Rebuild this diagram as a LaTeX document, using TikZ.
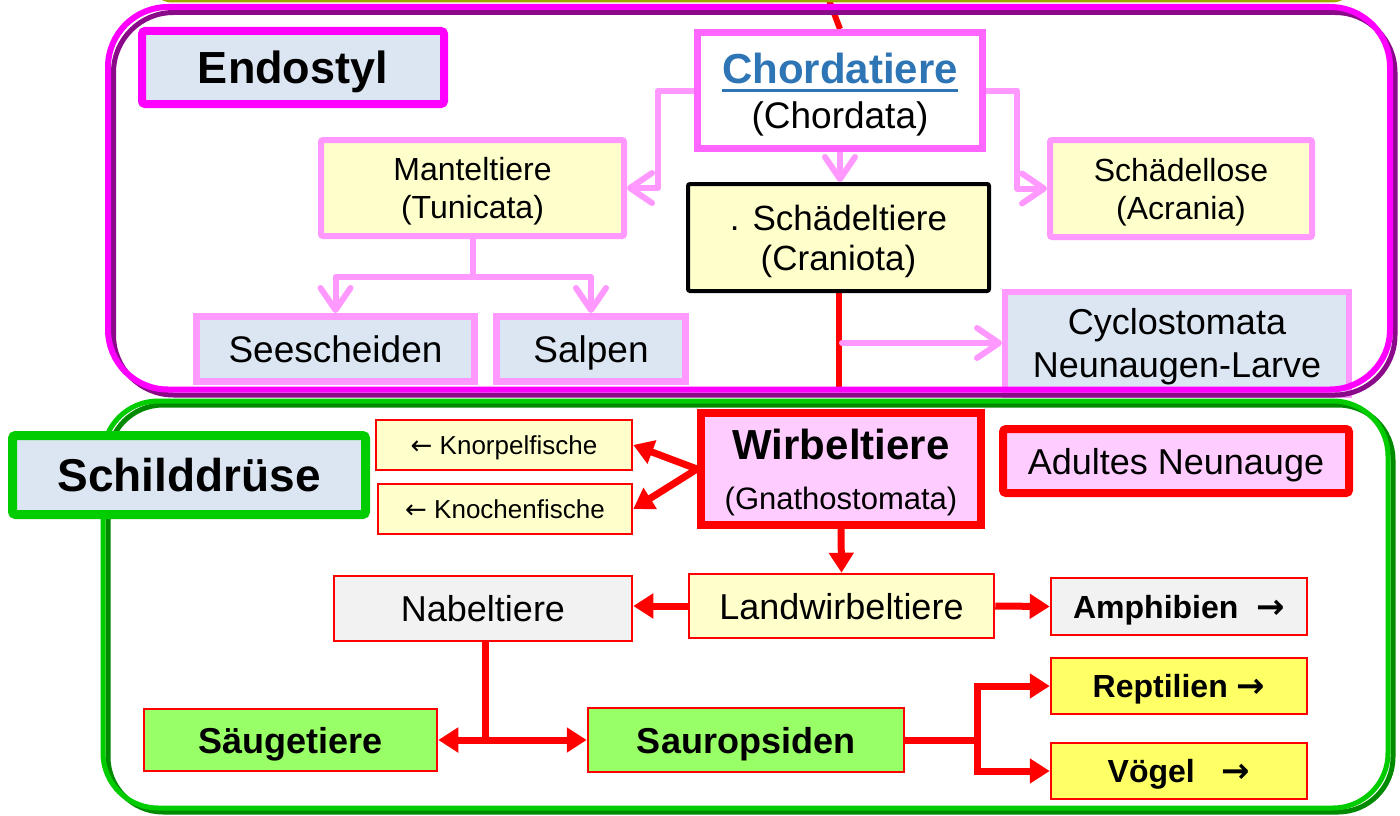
\documentclass[tikz,border=0pt]{standalone}
\usepackage{fontspec}
\setmainfont{Liberation Sans}
\newfontfamily\arrfont{DejaVu Sans}
\usetikzlibrary{arrows.meta}
\definecolor{mag}{HTML}{FF00FF}
\definecolor{purp}{HTML}{8A0A8A}
\definecolor{pinkln}{HTML}{FF99FF}
\definecolor{pinkbd}{HTML}{FF66FF}
\definecolor{ltblue}{HTML}{DCE6F2}
\definecolor{ltyel}{HTML}{FFFFCC}
\definecolor{grn}{HTML}{00CC00}
\definecolor{dgrn}{HTML}{008A00}
\definecolor{ltpink}{HTML}{FFCCFF}
\definecolor{chordblue}{HTML}{2E75B6}
\definecolor{ltgreen}{HTML}{99FF66}
\definecolor{yel}{HTML}{FFFF66}
\definecolor{ltgray}{HTML}{F2F2F2}
\definecolor{olivec}{HTML}{A3A300}
\newcommand\fs[2]{\fontsize{#1}{#2}\selectfont}
\newcommand\thickul[1]{\setbox0\hbox{#1}\rlap{\rule[-9pt]{\wd0}{3.5pt}}\box0}
\newcommand\ra{{\arrfont\fs{34}{34}→}}
\newcommand\la{{\arrfont ←}}
\pgfdeclarelayer{layzero}
\pgfdeclarelayer{layone}
\pgfdeclarelayer{laytwo}
\pgfsetlayers{layzero,layone,laytwo,main}
\begin{document}
\begin{tikzpicture}[x=1pt,y=-1pt,
  box/.style={draw, inner sep=0pt, align=center, text=black},
  oneline/.style={text height=#1, text depth=0pt},
  twoline/.style={text depth=0pt},
  pinkline/.style={draw=pinkln, line width=6pt, line cap=round, line join=round},
  pinkarr/.style={pinkline, -{Straight Barb[length=22pt,width=30pt,round]}},
  redline/.style={draw=red, line width=7pt},
  redarr/.style={redline, -{Triangle[length=20pt,width=24pt]}},
  thinred/.style={box, draw=red, line width=2.5pt}
]
\useasboundingbox (0,0) rectangle (1400,816);

% ---------- top section nodes ----------
\node[box, oneline=32pt, draw=mag, line width=8pt, fill=ltblue, rounded corners=3pt,
      minimum width=302pt, minimum height=73pt, font=\fs{45}{50}\bfseries]
      (endo) at (293,67.5) {Endostyl};
\node[box, twoline, draw=pinkbd, line width=7pt, fill=white,
      minimum width=285pt, minimum height=116pt, font=\fs{37}{45}]
      (chord) at (840,90.5) {\textcolor{chordblue}{\fs{42}{45}\bfseries\thickul{Chordatiere}}\\(Chordata)};
\node[box, twoline, draw=pinkln, line width=6pt, fill=ltyel, rounded corners=2pt,
      minimum width=303pt, minimum height=96pt, font=\fs{32}{38}]
      (mantel) at (472.5,188) {Manteltiere\\(Tunicata)};
\node[box, twoline, draw=black, line width=4pt, fill=ltyel, rounded corners=2pt,
      minimum width=301pt, minimum height=107pt, font=\fs{35}{40}]
      (schaedel) at (838.5,237.5) {. Schädeltiere\\(Craniota)};
\node[box, twoline, draw=pinkln, line width=6pt, fill=ltyel, rounded corners=2pt,
      minimum width=262pt, minimum height=97pt, font=\fs{32}{38}]
      (schlos) at (1181,188.5) {Schädellose\\(Acrania)};
\node[box, oneline=26pt, draw=pinkln, line width=7pt, fill=ltblue,
      minimum width=278pt, minimum height=65pt, font=\fs{37}{42}]
      (seesch) at (335.5,349) {Seescheiden};
\node[box, oneline=26pt, draw=pinkln, line width=7pt, fill=ltblue,
      minimum width=189pt, minimum height=65pt, font=\fs{37}{42}]
      (salpen) at (591,349) {Salpen};

% ---------- bottom section nodes ----------
\node[box, oneline=33pt, draw=grn, line width=9pt, fill=ltblue, rounded corners=3pt,
      minimum width=353pt, minimum height=79pt, font=\fs{46}{50}\bfseries]
      (schild) at (189,475) {Schilddrüse};
\node[thinred, oneline=18pt, fill=ltyel, minimum width=256pt, minimum height=50pt, font=\fs{26}{30}]
      (knorpel) at (504,445) {\la\ Knorpelfische};
\node[thinred, oneline=18pt, fill=ltyel, minimum width=254pt, minimum height=50pt, font=\fs{26}{30}]
      (knochen) at (505,509) {\la\ Knochenfische};
\node[box, twoline, draw=red, line width=8pt, fill=ltpink,
      minimum width=280pt, minimum height=112pt, font=\fs{31}{50}]
      (wirbel) at (841,469) {{\fs{42}{50}\bfseries Wirbeltiere}\\(Gnathostomata)};
\node[box, oneline=26pt, draw=red, line width=8pt, fill=ltpink, rounded corners=3pt,
      minimum width=346pt, minimum height=64pt, font=\fs{36}{40}]
      (adult) at (1176,461) {Adultes Neunauge};
\node[thinred, oneline=26pt, fill=ltyel, minimum width=305pt, minimum height=64pt, font=\fs{36}{40}]
      (landw) at (841.5,606) {Landwirbeltiere};
\node[thinred, oneline=26pt, fill=ltgray, minimum width=298pt, minimum height=65pt, font=\fs{36}{40}]
      (nabel) at (483,608.5) {Nabeltiere};
\node[thinred, oneline=23pt, fill=ltgray, minimum width=256pt, minimum height=57pt, font=\fs{32}{34}\bfseries]
      (amph) at (1179,606.5) {Amphibien\hspace{18pt}\ra};
\node[thinred, oneline=23pt, fill=yel, minimum width=256pt, minimum height=56pt, font=\fs{32}{34}\bfseries]
      (rept) at (1179,686) {Reptilien\hspace{9pt}\ra};
\node[thinred, oneline=23pt, fill=yel, minimum width=256pt, minimum height=56pt, font=\fs{32}{34}\bfseries]
      (voegel) at (1179,771) {Vögel\hspace{27pt}\ra};
\node[thinred, oneline=26pt, fill=ltgreen, minimum width=293pt, minimum height=62pt, font=\fs{36}{40}\bfseries]
      (saeuge) at (290.5,740) {Säugetiere};
\node[thinred, oneline=26pt, fill=ltgreen, minimum width=316pt, minimum height=64pt, font=\fs{36}{40}\bfseries]
      (sauro) at (746,740) {Sauropsiden};

% ---------- lowest layer: background, red trunk lines, Cyclostomata ----------
\begin{pgfonlayer}{layzero}
  \fill[white] (0,0) rectangle (1400,816);
  \coordinate (rtop) at (829,0);
  \coordinate (rbot) at (838.5,389);
  \draw[draw=red, line width=6pt] (rtop) -- (chord.north);
  \draw[draw=red, line width=6pt] (schaedel.south) -- (rbot);
  \node[box, twoline, draw=pinkln, line width=6pt, fill=ltblue,
        minimum width=344pt, minimum height=103pt, font=\fs{36}{43}]
        (cyclo) at (1177,343) {Cyclostomata\\Neunaugen-Larve};
\end{pgfonlayer}

% ---------- containers ----------
\begin{pgfonlayer}{layone}
  \draw[olivec, line width=4pt, rounded corners=20pt] (152,-100) rectangle (1352,0.5);
  \draw[dgrn, line width=5pt, rounded corners=55pt] (108,405) rectangle (1393,812);
  \draw[grn, line width=5pt, rounded corners=55pt] (103,401) rectangle (1388,808);
  \draw[purp, line width=5pt, rounded corners=60pt] (113.5,12.5) rectangle (1395,395);
  \draw[mag, line width=6pt, rounded corners=60pt] (108,7) rectangle (1390,389.5);
\end{pgfonlayer}

% ---------- connectors ----------
\begin{pgfonlayer}{laytwo}
  \draw[pinkarr] (chord.west) -- (658,90.5) |- (mantel.east);
  \draw[pinkarr] (chord.east) -- (1017,90.5) |- (schlos.west);
  \draw[pinkarr] (chord.south) -- (chord.south |- schaedel.north);
  \coordinate (mj) at (472.5,277);
  \draw[pinkline] (mantel.south) -- (mj);
  \draw[pinkarr] (mj) -| (seesch.north);
  \draw[pinkarr] (mj) -| (salpen.north);
  \coordinate (cj) at (842,343);
  \draw[pinkarr] (cj) -- (cyclo.west);

  \draw[redarr] (wirbel.west) -- (knorpel.east);
  \draw[redarr] (wirbel.west) -- (knochen.east);
  \draw[redarr] (wirbel.south) -- (landw.north);
  \draw[redarr] (landw.west) -- (landw.west -| nabel.east);
  \draw[redarr] (landw.east) -- (amph.west);
  \coordinate (nj) at (485,740);
  \draw[redline] (nabel.south -| nj) -- ([yshift=3.5pt]nj);
  \draw[redarr] (nj) -- (saeuge.east);
  \draw[redarr] (nj) -- (sauro.west);
  \coordinate (sj) at (977,740);
  \draw[redline] (sauro.east) -- (sj);
  \draw[redarr] ([yshift=-3.5pt]sj) |- (rept.west);
  \draw[redarr] ([yshift=3.5pt]sj) |- (voegel.west);
\end{pgfonlayer}
\end{tikzpicture}
\end{document}
